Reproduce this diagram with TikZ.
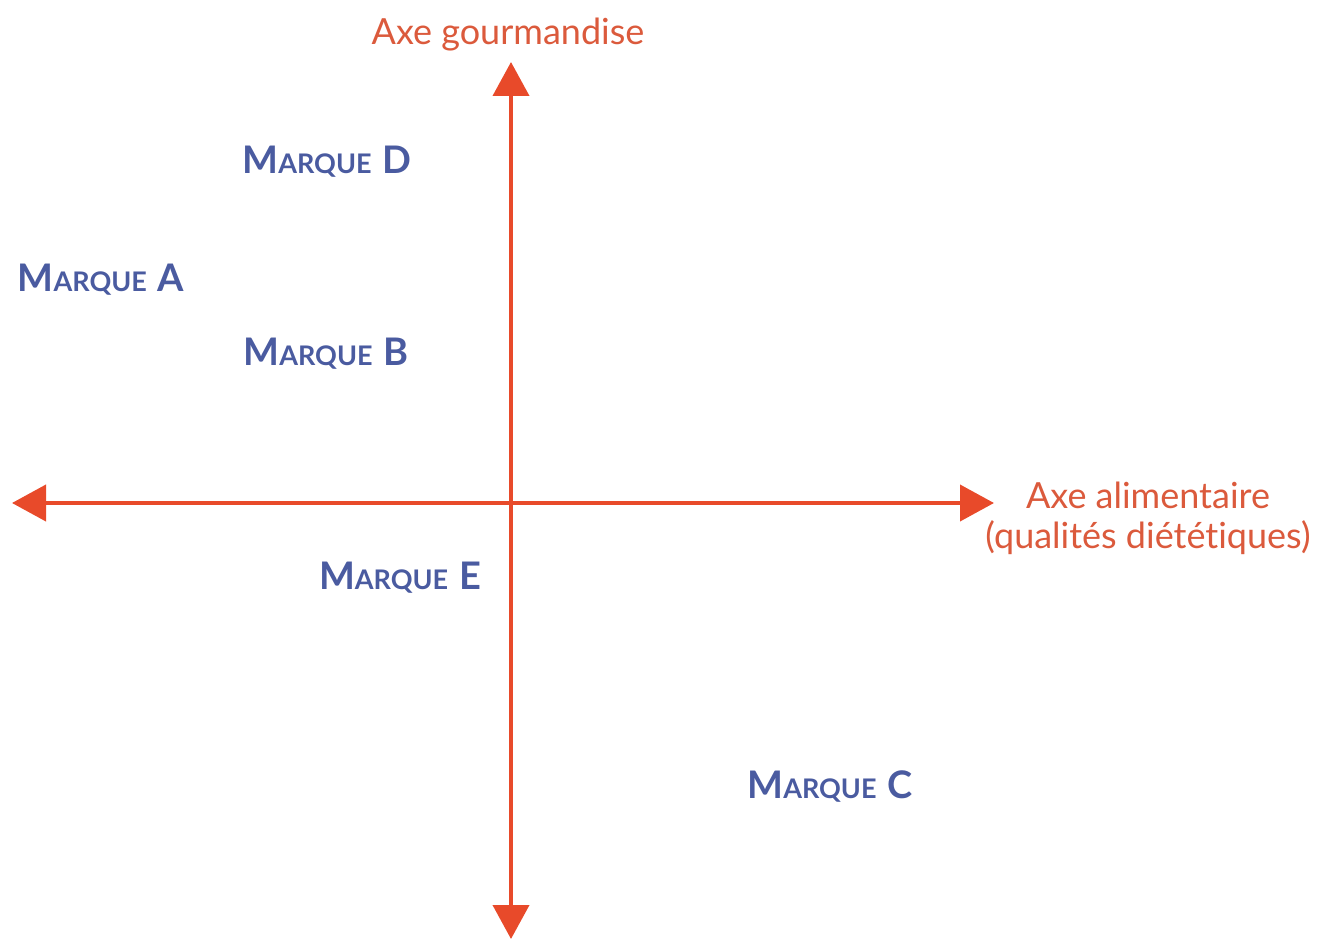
\documentclass[tikz,border=0pt]{standalone}
\usepackage{fontspec}
\setmainfont{Lato}[Ligatures=NoCommon]
\usetikzlibrary{arrows.meta}
\definecolor{axisred}{HTML}{E84A2A}
\definecolor{axistext}{HTML}{DB5A3C}
\definecolor{brandblue}{HTML}{4A5BA0}
\newcommand{\marque}[1]{{\fontsize{38}{38}\selectfont M}{\fontsize{27}{27}\selectfont ARQUE}\hspace{11pt}{\fontsize{38}{38}\selectfont #1}}
\begin{document}
\begin{tikzpicture}[x=1pt,y=-1pt,
  axis/.style={axisred, line width=4pt, -{Triangle[length=34pt,width=36pt]}},
  axislabel/.style={text=axistext, font=\fontsize{36}{40}\selectfont, align=center, inner sep=0pt},
  brand/.style={text=brandblue, font=\bfseries, inner sep=0pt}]
\useasboundingbox (0,0) rectangle (1318,939);
\coordinate (O) at (511,503);
\coordinate (L) at (12,503);
\coordinate (R) at (994,503);
\coordinate (T) at (511,62);
\coordinate (B) at (511,939);
\draw[axis] (O) -- (L);
\draw[axis] (O) -- (R);
\draw[axis] (O) -- (T);
\draw[axis] (O) -- (B);
\node[axislabel] (ty) at (508,35) {Axe gourmandise};
\node[axislabel] (tx) at (1148,518) {Axe alimentaire\\(qualités diététiques)};
\node[brand] (d) at (327,162) {\marque{D}};
\node[brand] (a) at (101,280) {\marque{A}};
\node[brand] (b) at (326,354) {\marque{B}};
\node[brand] (e) at (400,578) {\marque{E}};
\node[brand] (c) at (830,787) {\marque{C}};
\end{tikzpicture}
\end{document}
